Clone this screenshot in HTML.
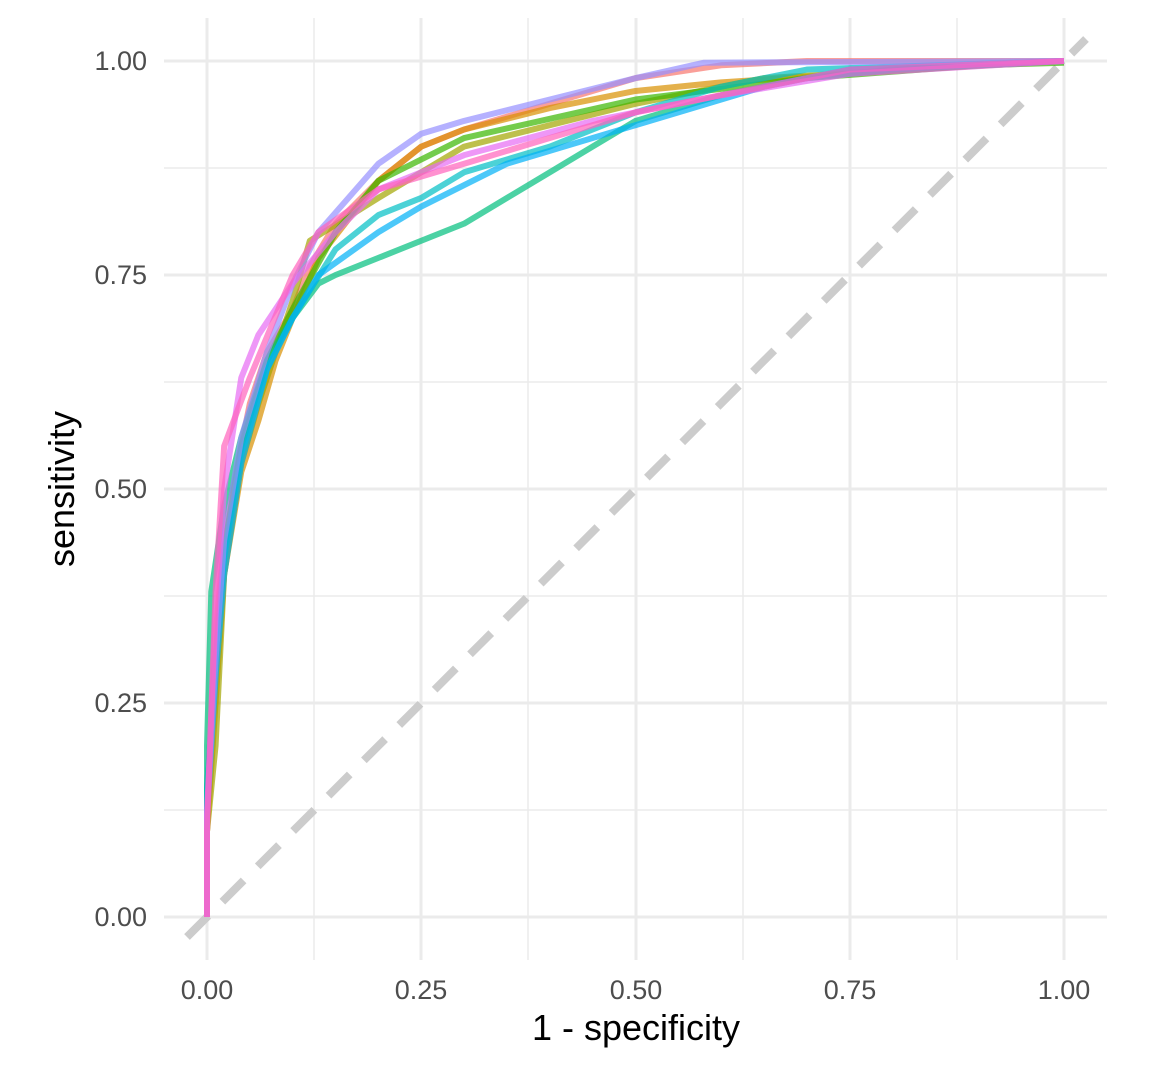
<!DOCTYPE html>
<html><head><meta charset="utf-8"><style>
html,body{margin:0;padding:0;background:#fff;}
svg{display:block;font-family:"Liberation Sans",sans-serif;}
</style></head><body>
<svg width="1152" height="1067" viewBox="0 0 1152 1067">
<g stroke="#ebebeb" stroke-width="1.5">
<line x1="164" x2="1107" y1="168" y2="168"/><line x1="164" x2="1107" y1="382" y2="382"/><line x1="164" x2="1107" y1="596" y2="596"/><line x1="164" x2="1107" y1="810" y2="810"/>
<line y1="18" y2="960" x1="314" x2="314"/><line y1="18" y2="960" x1="528" x2="528"/><line y1="18" y2="960" x1="743" x2="743"/><line y1="18" y2="960" x1="957" x2="957"/>
</g>
<g stroke="#ebebeb" stroke-width="3">
<line x1="164" x2="1107" y1="61" y2="61"/><line x1="164" x2="1107" y1="275" y2="275"/><line x1="164" x2="1107" y1="489" y2="489"/><line x1="164" x2="1107" y1="703" y2="703"/><line x1="164" x2="1107" y1="917" y2="917"/>
<line y1="18" y2="960" x1="207" x2="207"/><line y1="18" y2="960" x1="421" x2="421"/><line y1="18" y2="960" x1="636" x2="636"/><line y1="18" y2="960" x1="850" x2="850"/><line y1="18" y2="960" x1="1064" x2="1064"/>
</g>
<line x1="187" y1="937" x2="1086" y2="39" stroke="#cccccc" stroke-width="8" stroke-dasharray="30,20"/>
<g transform="translate(207,917) scale(857,-856)" fill="none" stroke-width="6" stroke-opacity="0.7" stroke-linejoin="round">
<polyline vector-effect="non-scaling-stroke" stroke="#F8766D" points="0,0 0,.1 .005,.22 .01,.33 .02,.44 .03,.5 .05,.6 .07,.66 .1,.71 .12,.76 .15,.81 .2,.86 .25,.9 .3,.92 .4,.95 .5,.98 .6,.995 .7,1 1,1"/>
<polyline vector-effect="non-scaling-stroke" stroke="#D89000" points="0,0 0,.1 .01,.25 .02,.4 .04,.52 .06,.58 .08,.65 .1,.7 .13,.77 .2,.86 .25,.9 .3,.92 .4,.945 .5,.965 .6,.975 .75,.985 .9,.995 1,1"/>
<polyline vector-effect="non-scaling-stroke" stroke="#A3A500" points="0,0 0,.1 .01,.2 .02,.4 .04,.53 .06,.6 .1,.72 .12,.79 .2,.84 .3,.9 .4,.925 .5,.95 .65,.98 1,1"/>
<polyline vector-effect="non-scaling-stroke" stroke="#39B600" points="0,0 0,.15 .01,.3 .02,.43 .04,.55 .07,.65 .1,.71 .15,.8 .2,.86 .3,.91 .5,.955 .7,.98 .9,.995 1,.998"/>
<polyline vector-effect="non-scaling-stroke" stroke="#00BF7D" points="0,0 0,.2 .005,.38 .02,.48 .04,.56 .07,.65 .1,.7 .13,.74 .15,.75 .2,.77 .25,.79 .3,.81 .35,.84 .4,.87 .45,.9 .5,.93 .6,.96 .7,.98 .8,.99 1,1"/>
<polyline vector-effect="non-scaling-stroke" stroke="#00BFC4" points="0,0 0,.15 .01,.3 .02,.42 .04,.54 .07,.64 .1,.7 .15,.78 .2,.82 .25,.84 .3,.87 .4,.9 .5,.94 .6,.97 .7,.99 1,1"/>
<polyline vector-effect="non-scaling-stroke" stroke="#00B0F6" points="0,0 0,.12 .01,.28 .02,.4 .04,.53 .07,.64 .1,.7 .13,.75 .2,.8 .25,.83 .35,.88 .45,.91 .55,.94 .65,.97 .75,.99 1,1"/>
<polyline vector-effect="non-scaling-stroke" stroke="#9590FF" points="0,0 0,.12 .01,.3 .02,.44 .04,.56 .07,.66 .1,.74 .13,.8 .2,.88 .25,.915 .3,.93 .4,.955 .5,.98 .58,.998 1,1"/>
<polyline vector-effect="non-scaling-stroke" stroke="#E76BF3" points="0,0 0,.12 .01,.35 .02,.5 .04,.63 .06,.68 .1,.74 .15,.8 .2,.85 .3,.89 .45,.93 .6,.96 .75,.985 1,1"/>
<polyline vector-effect="non-scaling-stroke" stroke="#FF62BC" points="0,0 0,.1 .01,.38 .02,.55 .05,.63 .1,.75 .13,.8 .2,.85 .3,.88 .4,.91 .5,.94 .6,.96 .75,.99 1,1"/>
</g>
<g fill="#4d4d4d" font-size="27" text-anchor="end">
<text x="147" y="70">1.00</text><text x="147" y="284">0.75</text><text x="147" y="498">0.50</text><text x="147" y="712">0.25</text><text x="147" y="926">0.00</text>
</g>
<g fill="#4d4d4d" font-size="27" text-anchor="middle">
<text x="207" y="999">0.00</text><text x="421" y="999">0.25</text><text x="636" y="999">0.50</text><text x="850" y="999">0.75</text><text x="1064" y="999">1.00</text>
</g>
<text x="636" y="1040" font-size="36" text-anchor="middle" fill="#000">1 - specificity</text>
<text transform="translate(74,489) rotate(-90)" font-size="36" text-anchor="middle" fill="#000">sensitivity</text>
</svg>
</body></html>
